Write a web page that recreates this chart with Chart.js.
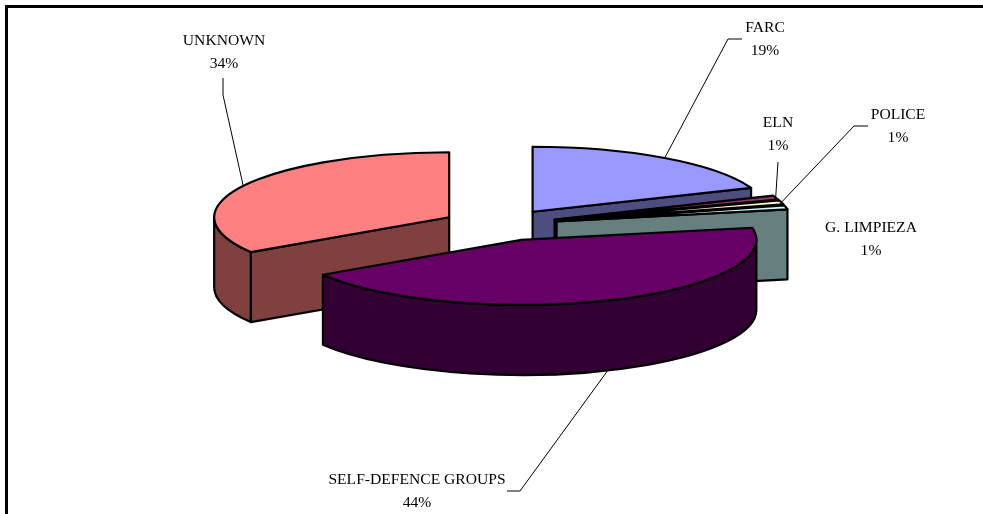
<!DOCTYPE html>
<html>
<head>
<meta charset="utf-8">
<script src="https://cdn.jsdelivr.net/npm/chart.js@4.4.0/dist/chart.umd.min.js"></script>
<style>
  html, body { margin: 0; padding: 0; background: #fff; }
  canvas { display: block; }
</style>
</head>
<body>
<canvas id="chart" width="983" height="514"></canvas>
<script>
const categories = ['FARC', 'ELN', 'POLICE', 'G. LIMPIEZA', 'SELF-DEFENCE GROUPS', 'UNKNOWN'];
const shares = [19, 1, 1, 1, 44, 34];
const topColors = ['#9999FF', '#993366', '#FFFFCC', '#CCFFFF', '#660066', '#FF8080'];
const sideColors = ['#4D4D80', '#4D1A33', '#808066', '#668080', '#330033', '#804040'];

// label centre + first baseline, and the elbow of the leader line (if any)
const labelSpots = [
  { x: 765, y: 32, leader: [[742, 39], [728, 39]] },
  { x: 778, y: 127, leader: [[778, 162]] },
  { x: 898, y: 119, leader: [[868, 126], [854, 126]] },
  { x: 871, y: 232, leader: null },
  { x: 417, y: 484, leader: [[507, 491], [520, 491]] },
  { x: 224, y: 45, leader: [[223, 78], [223, 95]] },
];

// projection of the flat pie onto the tilted 3d disc
const view = { cx: 500, cy: 225, rx: 235, ry: 65, depth: 70, explode: 58 };

const total = shares.reduce((a, b) => a + b, 0);

const pie3d = {
  id: 'pie3d',
  beforeDatasetsDraw(chart) {
    const ctx = chart.ctx;
    const v = view;
    const meta = chart.getDatasetMeta(0);

    const slices = meta.data.map((arc, i) => {
      const mid = (arc.startAngle + arc.endAngle) / 2;
      return {
        arc, i,
        a1: arc.startAngle,
        a2: arc.endAngle,
        mid,
        x: v.cx + Math.cos(mid) * v.explode,
        y: v.cy + Math.sin(mid) * v.explode * v.ry / v.rx,
      };
    });
    chart.$slices = slices;

    const rim = (s, a, dz) => [s.x + v.rx * Math.cos(a), s.y + v.ry * Math.sin(a) + dz];

    ctx.save();
    ctx.lineWidth = 2.2;
    ctx.lineJoin = 'round';
    ctx.strokeStyle = '#000';

    const face = (s, a) => {
      const p = rim(s, a, 0);
      ctx.beginPath();
      ctx.moveTo(s.x, s.y);
      ctx.lineTo(p[0], p[1]);
      ctx.lineTo(p[0], p[1] + v.depth);
      ctx.lineTo(s.x, s.y + v.depth);
      ctx.closePath();
      ctx.fillStyle = sideColors[s.i];
      ctx.fill();
      ctx.stroke();
    };

    // sides, back to front
    [...slices].sort((p, q) => p.y - q.y).forEach(s => {
      if (Math.cos(s.a1) < -1e-6) face(s, s.a1);
      if (Math.cos(s.a2) > 1e-6) face(s, s.a2);
      const b1 = Math.max(s.a1, 0);
      const b2 = Math.min(s.a2, Math.PI);
      if (b1 < b2) {
        const e = rim(s, b2, v.depth);
        ctx.beginPath();
        ctx.ellipse(s.x, s.y, v.rx, v.ry, 0, b1, b2);
        ctx.lineTo(e[0], e[1]);
        ctx.ellipse(s.x, s.y + v.depth, v.rx, v.ry, 0, b2, b1, true);
        ctx.closePath();
        ctx.fillStyle = sideColors[s.i];
        ctx.fill();
        ctx.stroke();
      }
    });

    // tops: the library's arcs, squashed onto the disc
    slices.forEach(s => {
      const arc = s.arc;
      ctx.save();
      ctx.translate(s.x, s.y);
      ctx.scale(v.rx / arc.outerRadius, v.ry / arc.outerRadius);
      ctx.translate(-arc.x, -arc.y);
      arc.draw(ctx);
      ctx.restore();

      const p = rim(s, s.a1, 0);
      ctx.beginPath();
      ctx.moveTo(s.x, s.y);
      ctx.lineTo(p[0], p[1]);
      ctx.ellipse(s.x, s.y, v.rx, v.ry, 0, s.a1, s.a2);
      ctx.closePath();
      ctx.stroke();
    });
    ctx.restore();
    return false;
  },
  afterDraw(chart) {
    const ctx = chart.ctx;
    const v = view;
    const slices = chart.$slices || [];
    ctx.save();

    // frame
    ctx.lineWidth = 3;
    ctx.strokeStyle = '#000';
    ctx.strokeRect(6.5, 6.5, 1000, 540);

    // leader lines
    ctx.lineWidth = 1;
    slices.forEach(s => {
      const spot = labelSpots[s.i];
      if (!spot.leader) return;
      const down = Math.sin(s.mid) > 0 ? v.depth : 0;
      const end = [s.x + v.rx * Math.cos(s.mid), s.y + v.ry * Math.sin(s.mid) + down];
      ctx.beginPath();
      ctx.moveTo(spot.leader[0][0], spot.leader[0][1]);
      spot.leader.slice(1).forEach(p => ctx.lineTo(p[0], p[1]));
      ctx.lineTo(end[0], end[1]);
      ctx.stroke();
    });

    // labels
    ctx.fillStyle = '#000';
    ctx.font = '15.6px "Liberation Serif", "Times New Roman", serif';
    ctx.textAlign = 'center';
    ctx.textBaseline = 'alphabetic';
    categories.forEach((name, i) => {
      const spot = labelSpots[i];
      ctx.fillText(name, spot.x, spot.y);
      ctx.fillText(Math.round(shares[i] / total * 100) + '%', spot.x, spot.y + 23);
    });
    ctx.restore();
  }
};

new Chart(document.getElementById('chart'), {
  type: 'pie',
  data: {
    labels: categories,
    datasets: [{
      data: shares,
      backgroundColor: topColors,
      borderWidth: 0,
      offset: 0,
    }],
  },
  options: {
    responsive: false,
    animation: false,
    events: [],
    plugins: {
      legend: { display: false },
      tooltip: { enabled: false },
    },
  },
  plugins: [pie3d],
});
</script>
</body>
</html>
